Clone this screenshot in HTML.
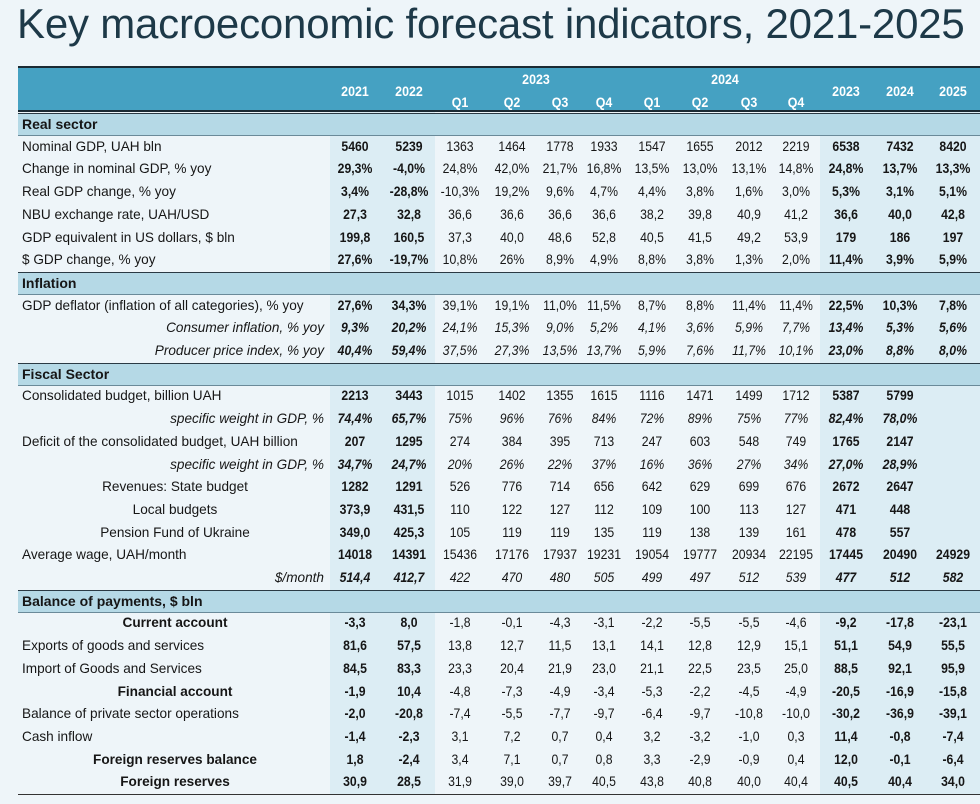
<!DOCTYPE html>
<html><head><meta charset="utf-8">
<style>
html,body{margin:0;padding:0;}
body{width:980px;height:804px;background:#eef5f9;position:relative;overflow:hidden;font-family:"Liberation Sans",sans-serif;color:#161616;}
#title{position:absolute;left:17px;top:0px;font-size:42px;color:#1d3948;letter-spacing:-0.2px;white-space:nowrap;line-height:48px;}
#tbl{position:absolute;left:18px;top:66px;width:962px;}
.shade{position:absolute;background:#dcedf4;}
.hdr{position:absolute;left:0;top:0;width:962px;height:46px;background:#45a1c2;border-top:2px solid #1a2a33;border-bottom:2px solid #1a2a33;box-sizing:border-box;}
.h{position:absolute;color:#fff;font-weight:bold;font-size:13.5px;text-align:center;transform:translateX(-50%) scaleX(0.92);white-space:nowrap;}
.sec{position:absolute;left:0;width:962px;background:#b5d9e6;border-top:1.5px solid #2a3a44;border-bottom:1px solid #6a8a99;box-sizing:border-box;font-weight:bold;font-size:14px;padding-left:4px;}
.lab{position:absolute;font-size:13.6px;white-space:nowrap;}
.v{position:absolute;font-size:13.6px;text-align:center;transform:translateX(-50%) scaleX(0.9);white-space:nowrap;}
.b{font-weight:bold}.i{font-style:italic}
#bottom{position:absolute;left:0;width:962px;height:0;border-top:1.5px solid #333;}
</style></head>
<body>
<div id="title">Key macroeconomic forecast indicators, 2021-2025</div>
<div id="tbl"></div>
<script>
const colCenters=[337,391,442,494,542,586,634,682,731,778,828,882,935];
const colHeaders=["2021","2022","Q1","Q2","Q3","Q4","Q1","Q2","Q3","Q4","2023","2024","2025"];
const boldCols=[0,1,10,11,12];
const rows=[
["sec","Real sector"],
["row","Nominal GDP, UAH bln","l","",["5460","5239","1363","1464","1778","1933","1547","1655","2012","2219","6538","7432","8420"]],
["row","Change in nominal GDP, % yoy","l","",["29,3%","-4,0%","24,8%","42,0%","21,7%","16,8%","13,5%","13,0%","13,1%","14,8%","24,8%","13,7%","13,3%"]],
["row","Real GDP change, % yoy","l","",["3,4%","-28,8%","-10,3%","19,2%","9,6%","4,7%","4,4%","3,8%","1,6%","3,0%","5,3%","3,1%","5,1%"]],
["row","NBU exchange rate, UAH/USD","l","",["27,3","32,8","36,6","36,6","36,6","36,6","38,2","39,8","40,9","41,2","36,6","40,0","42,8"]],
["row","GDP equivalent in US dollars, $ bln","l","",["199,8","160,5","37,3","40,0","48,6","52,8","40,5","41,5","49,2","53,9","179","186","197"]],
["row","$ GDP change, % yoy","l","",["27,6%","-19,7%","10,8%","26%","8,9%","4,9%","8,8%","3,8%","1,3%","2,0%","11,4%","3,9%","5,9%"]],
["sec","Inflation"],
["row","GDP deflator (inflation of all categories), % yoy","l","",["27,6%","34,3%","39,1%","19,1%","11,0%","11,5%","8,7%","8,8%","11,4%","11,4%","22,5%","10,3%","7,8%"]],
["row","Consumer inflation, % yoy","r","i",["9,3%","20,2%","24,1%","15,3%","9,0%","5,2%","4,1%","3,6%","5,9%","7,7%","13,4%","5,3%","5,6%"]],
["row","Producer price index, % yoy","r","i",["40,4%","59,4%","37,5%","27,3%","13,5%","13,7%","5,9%","7,6%","11,7%","10,1%","23,0%","8,8%","8,0%"]],
["sec","Fiscal Sector"],
["row","Consolidated budget, billion UAH","l","",["2213","3443","1015","1402","1355","1615","1116","1471","1499","1712","5387","5799",""]],
["row","specific weight in GDP, %","r","i",["74,4%","65,7%","75%","96%","76%","84%","72%","89%","75%","77%","82,4%","78,0%",""]],
["row","Deficit of the consolidated budget, UAH billion","l","",["207","1295","274","384","395","713","247","603","548","749","1765","2147",""]],
["row","specific weight in GDP, %","r","i",["34,7%","24,7%","20%","26%","22%","37%","16%","36%","27%","34%","27,0%","28,9%",""]],
["row","Revenues: State budget","c","",["1282","1291","526","776","714","656","642","629","699","676","2672","2647",""]],
["row","Local budgets","c","",["373,9","431,5","110","122","127","112","109","100","113","127","471","448",""]],
["row","Pension Fund of Ukraine","c","",["349,0","425,3","105","119","119","135","119","138","139","161","478","557",""]],
["row","Average wage, UAH/month","l","",["14018","14391","15436","17176","17937","19231","19054","19777","20934","22195","17445","20490","24929"]],
["row","$/month","r","i",["514,4","412,7","422","470","480","505","499","497","512","539","477","512","582"]],
["sec","Balance of payments, $ bln"],
["row","Current account","c","b",["-3,3","8,0","-1,8","-0,1","-4,3","-3,1","-2,2","-5,5","-5,5","-4,6","-9,2","-17,8","-23,1"]],
["row","Exports of goods and services","l","",["81,6","57,5","13,8","12,7","11,5","13,1","14,1","12,8","12,9","15,1","51,1","54,9","55,5"]],
["row","Import of Goods and Services","l","",["84,5","83,3","23,3","20,4","21,9","23,0","21,1","22,5","23,5","25,0","88,5","92,1","95,9"]],
["row","Financial account","c","b",["-1,9","10,4","-4,8","-7,3","-4,9","-3,4","-5,3","-2,2","-4,5","-4,9","-20,5","-16,9","-15,8"]],
["row","Balance of private sector operations","l","",["-2,0","-20,8","-7,4","-5,5","-7,7","-9,7","-6,4","-9,7","-10,8","-10,0","-30,2","-36,9","-39,1"]],
["row","Cash inflow","l","",["-1,4","-2,3","3,1","7,2","0,7","0,4","3,2","-3,2","-1,0","0,3","11,4","-0,8","-7,4"]],
["row","Foreign reserves balance","c","b",["1,8","-2,4","3,4","7,1","0,7","0,8","3,3","-2,9","-0,9","0,4","12,0","-0,1","-6,4"]],
["row","Foreign reserves","c","b",["30,9","28,5","31,9","39,0","39,7","40,5","43,8","40,8","40,0","40,4","40,5","40,4","34,0"]]
];
const T=document.getElementById('tbl');
const top0=47, rh=22.7;
function mk(cls,parent){const d=document.createElement('div');d.className=cls;parent.appendChild(d);return d;}
const endY=top0+rows.length*rh;
let s1=mk('shade',T);


s1.style.cssText+='left:312px;width:105px;top:46px;height:'+(endY-46)+'px';
let s2=mk('shade',T);


s2.style.cssText+='left:802px;width:160px;top:46px;height:'+(endY-46)+'px';
const H=mk('hdr',T);


colHeaders.forEach((t,i)=>{const d=mk('h',H);


d.textContent=t;d.style.left=colCenters[i]+'px';
d.style.top=((i>=2&&i<=9)?27:16)+'px';});
[["2023",(colCenters[3]+colCenters[4])/2],["2024",(colCenters[7]+colCenters[8])/2]].forEach(p=>{const d=mk('h',H);


d.textContent=p[0];d.style.left=p[1]+'px';d.style.top='4px';});
rows.forEach((r,k)=>{const y=top0+k*rh;
 if(r[0]==='sec'){const d=mk('sec',T);
  
  
  d.textContent=r[1];d.style.top=y+'px';d.style.height=(rh+0.5)+'px';d.style.lineHeight=(rh-2)+'px';return;}
 const L=mk('lab',T);
 
 
 L.textContent=r[1];L.style.top=(y+3)+'px';
 if(r[3])L.classList.add(r[3]);
 if(r[2]==='l'){L.style.left='4px';}
 else if(r[2]==='r'){L.style.right=(962-306)+'px';}
 else {L.style.left='157px';L.style.transform='translateX(-50%)';}
 r[4].forEach((v,i)=>{if(!v)return;const d=mk('v',T);
  
  
  d.textContent=v;d.style.left=colCenters[i]+'px';d.style.top=(y+3)+'px';
  if(boldCols.includes(i))d.classList.add('b');
  if(r[3]==='i')d.classList.add('i');});
});
const B=mk('',T);B.id='bottom';


B.style.top=endY+'px';
</script>
</body></html>
